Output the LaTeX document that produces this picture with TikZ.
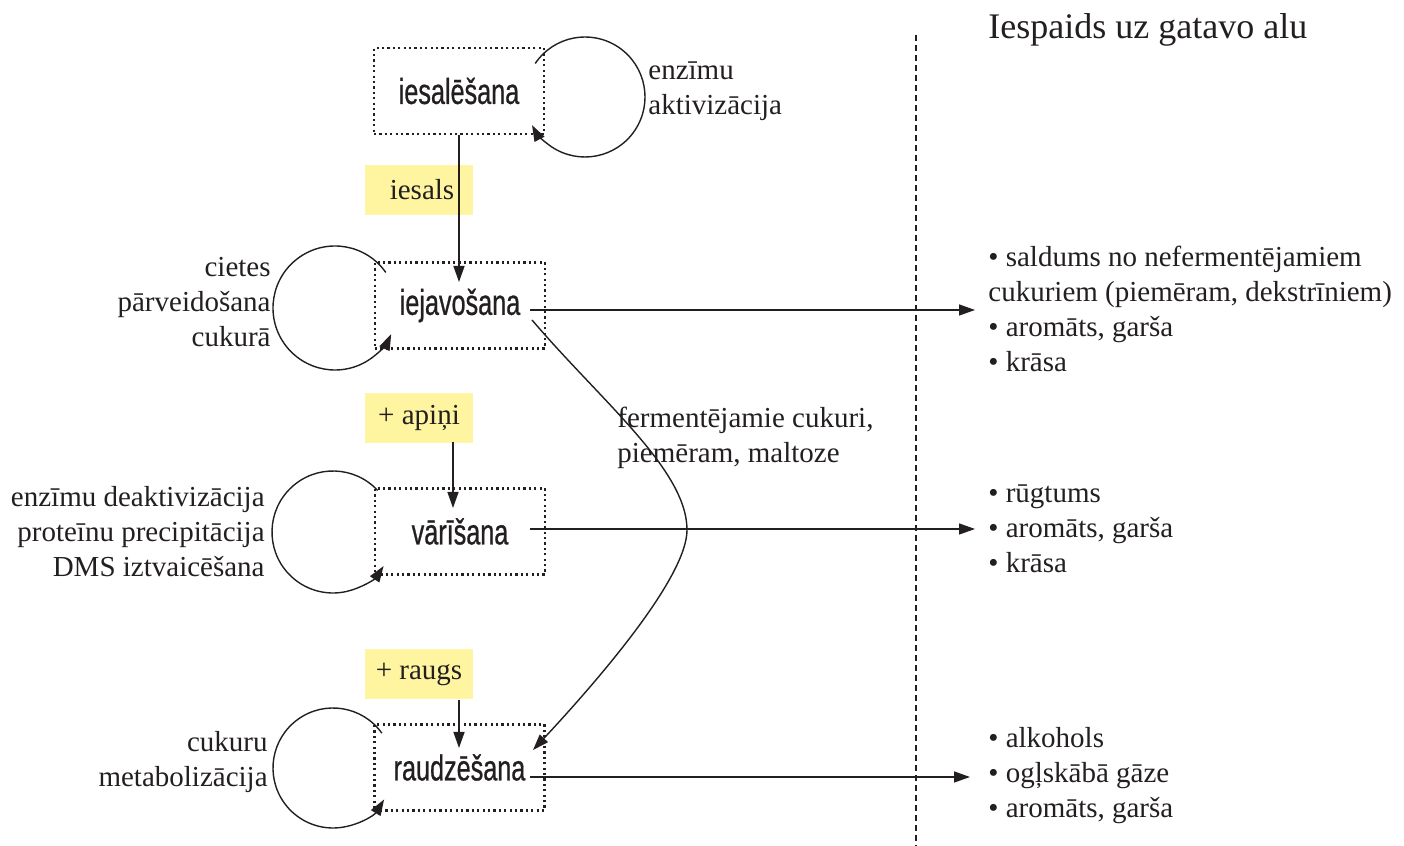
\documentclass[tikz,border=0pt]{standalone}
\usepackage{fontspec}
\setmainfont{Liberation Serif}
\newfontfamily\boxfont[FakeStretch=0.7,FakeBold=0.6]{Liberation Sans}
\usetikzlibrary{arrows.meta,calc}
\definecolor{ink}{HTML}{231F20}
\definecolor{hl}{HTML}{FFF5A0}
\newcommand{\boxtxt}[1]{\raisebox{-2.5pt}{#1}}
\begin{document}
\begin{tikzpicture}[x=0.5pt,y=0.5pt,
  proc/.style={draw=ink, line width=1.1pt, dash pattern=on 1.1pt off 1.6pt,
    minimum width=85pt, minimum height=43pt, inner sep=0pt,
    font=\boxfont\fontsize{18}{20}\selectfont, text=ink},
  ingr/.style={fill=hl, minimum width=54pt, minimum height=25pt, inner sep=0pt,
    font=\fontsize{14.5}{17.5}\selectfont, text=ink},
  lbl/.style={inner sep=0pt, font=\fontsize{14.5}{17.5}\selectfont, text=ink},
  conn/.style={draw=ink, line width=0.7pt, -{Triangle[length=8pt,width=5.5pt]}},
]
\useasboundingbox (0,0) rectangle (1404,846);

% ingredient boxes
\node[ingr] (ial) at (419,656) {\hspace*{3pt}\raisebox{-1pt}{iesals}};
\node[ingr] (api) at (419,428) {\raisebox{-1pt}{+ apiņi}};
\node[ingr] (rgs) at (419,172) {\raisebox{-1pt}{+ raugs}};

% process boxes
\node[proc] (ies) at (459,755) {\boxtxt{iesalēšana}};
\node[proc] (iej) at (460,540.5) {\boxtxt{iejavošana}};
\node[proc] (var) at (460,314.5) {\boxtxt{vārīšana}};
\node[proc] (rau) at (459.5,78.5) {\boxtxt{raudzēšana}};

% side labels
\node[lbl, anchor=west, align=left] (l1) at (648,754.5) {enzīmu\\aktivizācija};
\node[lbl, anchor=east, align=right] (l2) at (271,543.5) {cietes\\pārveidošana\\cukurā};
\node[lbl, anchor=east, align=right] (l3) at (265,314.5) {enzīmu deaktivizācija\\proteīnu precipitācija\\DMS iztvaicēšana};
\node[lbl, anchor=east, align=right] (l4) at (268,83.5) {cukuru\\metabolizācija};
\node[lbl, anchor=west, align=left] (l5) at (617,408.5) {fermentējamie cukuri,\\piemēram, maltoze};

% right column
\node[inner sep=0pt, anchor=west, font=\fontsize{18}{21}\selectfont, text=ink] (title) at (988,816.5) {Iespaids uz gatavo alu};
\node[lbl, anchor=west, align=left] (r1) at (988,537.5) {• saldums no nefermentējamiem\\cukuriem (piemēram, dekstrīniem)\\• aromāts, garša\\• krāsa};
\node[lbl, anchor=west, align=left] (r2) at (988,317.5) {• rūgtums\\• aromāts, garša\\• krāsa};
\node[lbl, anchor=west, align=left] (r3) at (988,70.5) {• alkohols\\• ogļskābā gāze\\• aromāts, garša};

% dashed divider
\coordinate (dtop) at (916,811);
\coordinate (dbot) at (916,0);
\draw[ink, line width=0.6pt, dash pattern=on 3pt off 2pt] (dtop) -- (dbot);

% vertical flow arrows
\coordinate (a1) at (459,564);
\draw[conn] (ies.south) -- (a1);
\coordinate (a2s) at (453,404);
\coordinate (a2e) at (453,338);
\draw[conn] (a2s) -- (a2e);
\coordinate (a3s) at (459,146);
\coordinate (a3e) at (459,98);
\draw[conn] (a3s) -- (a3e);

% self loops
\draw[conn] ($(585,749)+(146:60)$) arc[start angle=146, end angle=-152, radius=60];
\draw[conn] ($(335,538)+(35:62)$) arc[start angle=35, end angle=335, radius=62];
\draw[conn] ($(333,314)+(43:61)$) arc[start angle=43, end angle=326, radius=61];
\draw[conn] ($(333,78)+(35.5:60)$) arc[start angle=35.5, end angle=328.4, radius=60];

% outgoing arrows
\coordinate (h1s) at (530,536);  \coordinate (h1e) at (975,536);
\coordinate (h2s) at (530,317);  \coordinate (h2e) at (975,317);
\coordinate (h3s) at (530,69);   \coordinate (h3e) at (970,69);
\draw[conn] (h1s) -- (h1e);
\draw[conn] (h2s) -- (h2e);
\draw[conn] (h3s) -- (h3e);

% fermentable sugars curve
\coordinate (c1) at (532,526);
\coordinate (c2) at (533,96);
\draw[conn] (c1) .. controls (602,444) and (687,376) .. (687,316)
  .. controls (687,270) and (603,171) .. (c2);
\end{tikzpicture}
\end{document}
